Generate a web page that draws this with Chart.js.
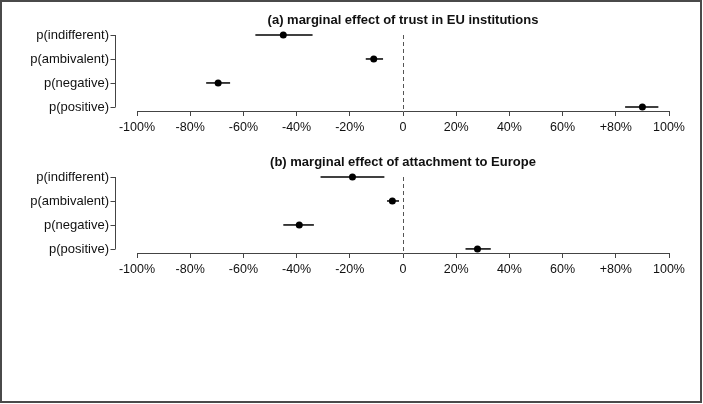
<!DOCTYPE html>
<html>
<head>
<meta charset="utf-8">
<script src="https://cdn.jsdelivr.net/npm/chart.js@4/dist/chart.umd.min.js"></script>
<style>
  html, body { margin: 0; padding: 0; background: #fff; }
  #wrap { position: relative; width: 703px; height: 404px; overflow: hidden; background: #fff; }
  canvas { position: absolute; left: 0; }
  #frame { position: absolute; left: 0; top: 0; width: 702px; height: 403px; box-sizing: border-box;
           border: 2px solid #4a4a4a; pointer-events: none; }
</style>
</head>
<body>
<div id="wrap">
  <canvas id="c1" width="703" height="142" style="top:0px"></canvas>
  <canvas id="c2" width="703" height="142" style="top:142px"></canvas>
  <div id="frame"></div>
</div>
<script>
// ---- data ----
const categories = ['p(indifferent)', 'p(ambivalent)', 'p(negative)', 'p(positive)'];
const tickValues = [-100, -80, -60, -40, -20, 0, 20, 40, 60, 80, 100];
const tickLabels = ['-100%', '-80%', '-60%', '-40%', '-20%', '0', '20%', '40%', '60%', '+80%', '100%'];

const titleA = '(a) marginal effect of trust in EU institutions';
const trustEst  = [-45.0, -11.0, -69.5, 90.0];
const trustLow  = [-55.5, -14.0, -74.0, 83.5];
const trustHigh = [-34.0,  -7.5, -65.0, 96.0];

const titleB = '(b) marginal effect of attachment to Europe';
const attachEst  = [-19.0, -4.0, -39.0, 28.0];
const attachLow  = [-31.0, -6.0, -45.0, 23.5];
const attachHigh = [ -7.0, -1.5, -33.5, 33.0];

const FONT = '"Liberation Sans", Arial, Helvetica, sans-serif';
const AXIS = '#444';

const panelPlugin = {
  id: 'panelPlugin',
  beforeDatasetsDraw(chart) {
    const { ctx, chartArea, scales } = chart;
    const x0 = Math.round(scales.x.getPixelForValue(0)) + 0.5;
    ctx.save();
    ctx.strokeStyle = '#555';
    ctx.lineWidth = 1;
    ctx.setLineDash([4, 3]);
    ctx.beginPath();
    ctx.moveTo(x0, chartArea.top);
    ctx.lineTo(x0, chartArea.bottom);
    ctx.stroke();
    ctx.restore();
  },
  afterDraw(chart) {
    const { ctx, chartArea, scales } = chart;
    const ys = scales.y;
    const ax = Math.round(chartArea.left - 22) + 0.5;
    ctx.save();
    ctx.strokeStyle = AXIS;
    ctx.lineWidth = 1;
    ctx.beginPath();
    ctx.moveTo(ax, ys.getPixelForValue(0));
    ctx.lineTo(ax, ys.getPixelForValue(categories.length - 1));
    categories.forEach((c, i) => {
      const py = Math.round(ys.getPixelForValue(i)) + 0.5;
      ctx.moveTo(ax - 5, py);
      ctx.lineTo(ax, py);
    });
    ctx.stroke();
    ctx.fillStyle = '#111';
    ctx.font = 'bold 13px ' + FONT;
    ctx.textAlign = 'center';
    ctx.textBaseline = 'middle';
    ctx.fillText(chart.options.plugins.panelPlugin.title, (chartArea.left + chartArea.right) / 2, 20);
    ctx.restore();
  }
};

function makeChart(id, title, est, low, high) {
  const datasets = [];
  categories.forEach((c, i) => {
    datasets.push({
      data: [{ x: low[i], y: i }, { x: high[i], y: i }],
      showLine: true,
      borderColor: '#000',
      borderWidth: 1.5,
      pointRadius: 0,
      pointHoverRadius: 0,
      clip: false
    });
  });
  datasets.push({
    data: est.map((v, i) => ({ x: v, y: i })),
    showLine: false,
    pointRadius: 3.5,
    pointBackgroundColor: '#000',
    pointBorderWidth: 0,
    clip: false
  });
  return new Chart(document.getElementById(id), {
    type: 'scatter',
    data: { datasets },
    plugins: [panelPlugin],
    options: {
      responsive: false,
      animation: false,
      layout: { padding: { top: 35, right: 34, left: 0, bottom: 0 } },
      plugins: {
        legend: { display: false },
        tooltip: { enabled: false },
        title: { display: false },
        panelPlugin: { title }
      },
      scales: {
        x: {
          type: 'linear',
          min: -100, max: 100,
          afterBuildTicks(scale) { scale.ticks = tickValues.map(v => ({ value: v })); },
          afterFit(scale) { scale.height = 31; },
          ticks: {
            callback: (v, i) => tickLabels[i],
            color: '#111',
            font: { family: FONT, size: 12.5 },
            padding: 4,
            maxRotation: 0,
            autoSkip: false
          },
          grid: { drawOnChartArea: false, drawTicks: true, tickLength: 5, color: AXIS, lineWidth: 1 },
          border: { display: true, color: AXIS, width: 1 }
        },
        y: {
          type: 'linear',
          reverse: true,
          min: 0, max: 3.17,
          afterBuildTicks(scale) { scale.ticks = categories.map((c, i) => ({ value: i })); },
          afterFit(scale) { scale.width = 137; },
          ticks: {
            callback: (v, i) => categories[i],
            color: '#111',
            font: { family: FONT, size: 13 },
            padding: 0,
            autoSkip: false
          },
          grid: { display: false, drawTicks: true, tickLength: 28 },
          border: { display: false }
        }
      }
    }
  });
}

makeChart('c1', titleA, trustEst, trustLow, trustHigh);
makeChart('c2', titleB, attachEst, attachLow, attachHigh);
</script>
</body>
</html>
